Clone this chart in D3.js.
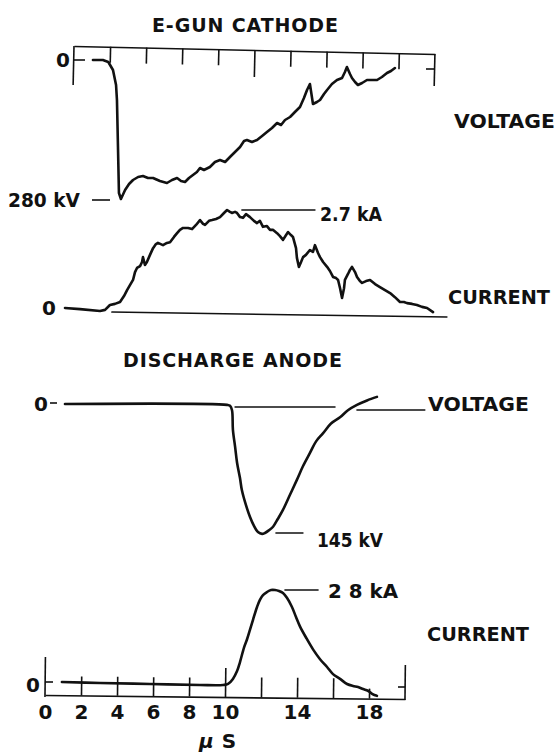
<!DOCTYPE html>
<html>
<head>
<meta charset="utf-8">
<script src="https://cdn.jsdelivr.net/npm/d3@7"></script>
<style>
  body { margin: 0; background: #fff; }
  svg { display: block; }
  text { font-family: "DejaVu Sans", sans-serif; font-weight: bold; fill: #111; }
</style>
</head>
<body>
<svg id="chart" width="559" height="752"></svg>
<script>
// Oscillograms: e-gun cathode and discharge anode, time in microseconds.

// E-gun cathode voltage, [µs, kV below zero]
const gunVoltage = [
  [1.05, 0], [1.6, 0], [1.9, 4], [2.16, 20], [2.33, 50], [2.38, 80], [2.44, 180],
  [2.49, 266], [2.6, 278], [2.83, 260], [3.05, 248], [3.27, 240], [3.55, 234],
  [3.82, 232], [4.1, 236], [4.38, 236], [4.76, 242], [5.15, 246], [5.43, 240],
  [5.71, 236], [5.93, 242], [6.15, 244], [6.37, 236], [6.59, 230], [6.81, 224],
  [6.98, 216], [7.2, 220], [7.53, 214], [7.81, 204], [8.09, 200], [8.37, 204],
  [8.64, 194], [8.92, 184], [9.2, 174], [9.42, 162], [9.58, 160], [9.86, 164],
  [10.14, 160], [10.42, 152], [10.69, 144], [10.97, 136], [11.25, 126], [11.47, 130],
  [11.69, 120], [11.97, 114], [12.24, 104], [12.52, 94], [12.74, 76], [12.91, 60],
  [13.07, 48], [13.24, 88], [13.46, 84], [13.63, 80], [13.85, 68], [14.02, 60],
  [14.29, 48], [14.57, 40], [14.85, 36], [15.01, 24], [15.12, 14], [15.29, 28],
  [15.4, 36], [15.57, 44], [15.73, 50], [15.96, 46], [16.23, 40], [16.51, 40],
  [16.79, 40], [17.06, 34], [17.34, 26], [17.56, 22], [17.78, 16]
];

// E-gun cathode current, [µs, kA]
const gunCurrent = [
  [-0.5, 0.08], [0.33, 0.05], [1.44, 0], [1.72, 0.03], [1.99, 0.16], [2.27, 0.19],
  [2.55, 0.24], [2.77, 0.4], [2.94, 0.56], [3.1, 0.69], [3.27, 0.83], [3.38, 1.04],
  [3.49, 1.15], [3.66, 1.2], [3.77, 1.31], [3.82, 1.44], [3.93, 1.23], [4.04, 1.31],
  [4.21, 1.5], [4.38, 1.68], [4.54, 1.79], [4.65, 1.82], [4.93, 1.76], [5.15, 1.82],
  [5.32, 1.84], [5.54, 1.98], [5.71, 2.08], [5.87, 2.17], [6.04, 2.22], [6.32, 2.22],
  [6.54, 2.19], [6.76, 2.3], [6.98, 2.43], [7.15, 2.33], [7.26, 2.3], [7.48, 2.41],
  [7.65, 2.43], [7.87, 2.46], [8.09, 2.51], [8.31, 2.62], [8.48, 2.7], [8.64, 2.65],
  [8.75, 2.62], [8.92, 2.65], [9.03, 2.62], [9.2, 2.51], [9.36, 2.49], [9.53, 2.59],
  [9.75, 2.51], [9.97, 2.41], [10.14, 2.35], [10.3, 2.41], [10.47, 2.25], [10.69, 2.27],
  [10.86, 2.17], [11.02, 2.17], [11.25, 2.08], [11.41, 2.0], [11.58, 1.9], [11.75, 2.03],
  [11.86, 2.11], [12.02, 2.03], [12.13, 1.98], [12.3, 1.68], [12.35, 1.42], [12.46, 1.18],
  [12.58, 1.31], [12.69, 1.44], [12.85, 1.5], [13.07, 1.63], [13.24, 1.58], [13.35, 1.76],
  [13.52, 1.55], [13.63, 1.44], [13.8, 1.31], [14.02, 1.18], [14.18, 1.07], [14.35, 0.91],
  [14.52, 0.88], [14.63, 0.83], [14.74, 0.61], [14.85, 0.35], [14.96, 0.61], [15.01, 0.83],
  [15.18, 0.99], [15.29, 1.1], [15.4, 1.18], [15.57, 1.04], [15.68, 0.91], [15.84, 0.8],
  [15.96, 0.75], [16.18, 0.8], [16.4, 0.83], [16.68, 0.72], [16.95, 0.64], [17.23, 0.56],
  [17.51, 0.48], [17.78, 0.37], [18.06, 0.24], [18.28, 0.24], [18.45, 0.21], [18.73, 0.19],
  [19.0, 0.16], [19.28, 0.11], [19.56, 0.08], [19.89, -0.03]
];
const gunCurrentBase = [[2.1, -0.03], [20.66, -0.16]];
const gunCurrentPeak = [[9.3, 2.7], [13.35, 2.7]];

// Discharge anode voltage, [µs, kV below zero]
const anodeVoltage = [
  [1.11, 0], [10.11, 1], [10.28, 2], [10.39, 7], [10.44, 29], [10.56, 48], [10.67, 66],
  [10.83, 83], [10.94, 97], [11.17, 114], [11.39, 127], [11.61, 137], [11.83, 144],
  [12.06, 146], [12.22, 145], [12.44, 142], [12.67, 138], [12.94, 129], [13.22, 119],
  [13.61, 102], [14.0, 85], [14.33, 70], [14.72, 55], [15.06, 42], [15.44, 33],
  [15.89, 22], [16.39, 15], [16.83, 7], [17.33, 1], [17.89, -4], [18.44, -8]
];
const anodeVoltageRef = [
  [[10.56, 3.4], [16.11, 3.4]],
  [[17.33, 6.7], [21.1, 6.7]]
];
const anodeVoltagePeak = [[12.83, 145], [14.33, 145]];

// Discharge anode current, [µs, kA]
const anodeCurrent = [
  [0.94, 0.09], [3.06, 0.06], [5.83, 0.03], [8.61, 0], [9.89, 0], [10.17, 0.03],
  [10.44, 0.18], [10.67, 0.41], [10.83, 0.67], [11.06, 1.11], [11.22, 1.34], [11.39, 1.63],
  [11.56, 1.93], [11.78, 2.3], [11.94, 2.51], [12.11, 2.65], [12.33, 2.74], [12.56, 2.8],
  [12.78, 2.8], [13.0, 2.77], [13.22, 2.71], [13.44, 2.57], [13.72, 2.3], [13.94, 2.01],
  [14.17, 1.72], [14.5, 1.4], [14.89, 1.05], [15.28, 0.76], [15.67, 0.53], [16.0, 0.32],
  [16.39, 0.18], [16.78, 0.03], [17.11, -0.03], [17.39, -0.06], [17.67, -0.12],
  [17.94, -0.17], [18.17, -0.26], [18.44, -0.32]
];
const anodeCurrentPeak = [[13.33, 2.8], [15.17, 2.8]];

const tickTimes = [2, 4, 6, 8, 10, 12, 14, 16, 18];
const tickLabels = [0, 2, 4, 6, 8, 10, 14, 18];

const svg = d3.select("#chart");

const xTop = d3.scaleLinear().domain([0, 20]).range([74, 435]);
const xBot = d3.scaleLinear().domain([0, 20]).range([45, 405]);
const yGunV = d3.scaleLinear().domain([0, 280]).range([60, 200]);
const yGunI = d3.scaleLinear().domain([0, 2.7]).range([311, 210]);
const yAnV = d3.scaleLinear().domain([0, 145]).range([404, 533]);
const yAnI = d3.scaleLinear().domain([0, 2.8]).range([685, 590]);

const trace = (x, y, curve) =>
  d3.line().x((d) => x(d[0])).y((d) => y(d[1])).curve(curve || d3.curveLinear);

const drawPath = (data, gen, width) => {
  svg
    .append("path")
    .datum(data)
    .attr("d", gen)
    .attr("fill", "none")
    .attr("stroke", "#111")
    .attr("stroke-width", width)
    .attr("stroke-linejoin", "round")
    .attr("stroke-linecap", "round");
};

const label = (x, y, str, size, anchor) => {
  return svg
    .append("text")
    .attr("x", x)
    .attr("y", y)
    .attr("font-size", size)
    .attr("text-anchor", anchor || "start")
    .text(str);
};

const segment = (x1, y1, x2, y2, w) => {
  svg
    .append("line")
    .attr("x1", x1).attr("y1", y1)
    .attr("x2", x2).attr("y2", y2)
    .attr("stroke", "#111")
    .attr("stroke-width", w || 1.6);
};

// ---- E-gun cathode frame (ticks hang from the top line)
const topFrame = svg.append("g").attr("transform", "rotate(1.27, 74, 46) translate(0, 46)");
topFrame
  .call(d3.axisBottom(xTop).tickValues(tickTimes).tickSize(16).tickSizeOuter(0).tickFormat(""))
  .call((g) => g.selectAll("path, line").attr("stroke", "#111").attr("stroke-width", 1.6))
  .call((g) => g.selectAll(".tick line").filter((d) => d === 10).attr("y2", 27));
topFrame.append("line").attr("x1", xTop(0)).attr("x2", xTop(0)).attr("y1", 0).attr("y2", 39)
  .attr("stroke", "#111").attr("stroke-width", 1.6);
topFrame.append("line").attr("x1", xTop(20)).attr("x2", xTop(20)).attr("y1", 0).attr("y2", 32)
  .attr("stroke", "#111").attr("stroke-width", 1.6);
segment(xTop(0), yGunV(0), xTop(0) + 11, yGunV(0));
segment(xTop(20) - 9, 69, xTop(20), 69);

label(152, 32, "E-GUN CATHODE", 19).attr("textLength", 186).attr("lengthAdjust", "spacing");
label(56, 67, "0", 20);
label(454, 128, "VOLTAGE", 20).attr("textLength", 101).attr("lengthAdjust", "spacingAndGlyphs");
label(8, 207, "280 kV", 20).attr("textLength", 72).attr("lengthAdjust", "spacingAndGlyphs");
segment(92, yGunV(280), 110, yGunV(280));

drawPath(gunVoltage, trace(xTop, yGunV), 2.6);

// ---- E-gun current
label(42, 315, "0", 20);
drawPath(gunCurrentBase, trace(xTop, yGunI), 1.5);
drawPath(gunCurrentPeak, trace(xTop, yGunI), 1.5);
label(320, 221, "2.7 kA", 20).attr("textLength", 62).attr("lengthAdjust", "spacingAndGlyphs");
label(448, 304, "CURRENT", 20).attr("textLength", 102).attr("lengthAdjust", "spacingAndGlyphs");
drawPath(gunCurrent, trace(xTop, yGunI), 2.6);

// ---- Discharge anode voltage
label(123, 367, "DISCHARGE ANODE", 19).attr("textLength", 219).attr("lengthAdjust", "spacing");
label(34, 411, "0", 20);
segment(50, yAnV(0) - 1, 57, yAnV(0) - 1);
anodeVoltageRef.forEach((seg) => drawPath(seg, trace(xBot, yAnV), 1.5));
label(428, 411, "VOLTAGE", 20).attr("textLength", 101).attr("lengthAdjust", "spacingAndGlyphs");
drawPath(anodeVoltagePeak, trace(xBot, yAnV), 1.5);
label(317, 547, "145 kV", 20).attr("textLength", 66).attr("lengthAdjust", "spacingAndGlyphs");
drawPath(anodeVoltage, trace(xBot, yAnV, d3.curveCatmullRom), 2.6);

// ---- Discharge anode current
drawPath(anodeCurrentPeak, trace(xBot, yAnI), 1.5);
label(328, 598, "2 8 kA", 20).attr("textLength", 70).attr("lengthAdjust", "spacingAndGlyphs");
label(427, 641, "CURRENT", 20).attr("textLength", 102).attr("lengthAdjust", "spacingAndGlyphs");
label(26, 692, "0", 20);
segment(xBot(0), yAnI(0) - 3, xBot(0) + 8, yAnI(0) - 3);
segment(xBot(20) - 7, yAnI(0) + 2, xBot(20), yAnI(0) + 2);
drawPath(anodeCurrent, trace(xBot, yAnI, d3.curveCatmullRom), 2.6);

// ---- Bottom time axis (ticks stand on the baseline)
const botFrame = svg.append("g").attr("transform", "rotate(0.64, 45, 695) translate(0, 695)");
botFrame
  .call(d3.axisBottom(xBot).tickValues(tickTimes).tickSize(-19).tickSizeOuter(0).tickFormat(""))
  .call((g) => g.selectAll("path, line").attr("stroke", "#111").attr("stroke-width", 1.6))
  .call((g) => g.selectAll(".tick line").filter((d) => d === 10).attr("y2", -29))
  .call((g) => g.selectAll(".tick line").filter((d) => d >= 12 && d <= 16).attr("y2", -20))
  .call((g) => g.selectAll(".tick line").filter((d) => d === 18).attr("y2", -10));
botFrame.append("line").attr("x1", xBot(0)).attr("x2", xBot(0)).attr("y1", -38).attr("y2", 2)
  .attr("stroke", "#111").attr("stroke-width", 1.6);
botFrame.append("line").attr("x1", xBot(20)).attr("x2", xBot(20)).attr("y1", -34).attr("y2", 1)
  .attr("stroke", "#111").attr("stroke-width", 1.6);

svg
  .append("g")
  .attr("transform", "translate(0, 697)")
  .call(d3.axisBottom(xBot).tickValues(tickLabels).tickSize(0).tickPadding(8))
  .call((g) => g.select(".domain").remove())
  .call((g) =>
    g.selectAll("text")
      .attr("font-size", 20)
      .attr("font-family", "DejaVu Sans, sans-serif")
      .attr("font-weight", "bold")
      .attr("fill", "#111")
  );

const unit = label(199, 748, "", 20);
unit.append("tspan").attr("font-style", "italic").text("\u03bc");
unit.append("tspan").attr("dx", 8).text("S");
</script>
</body>
</html>
